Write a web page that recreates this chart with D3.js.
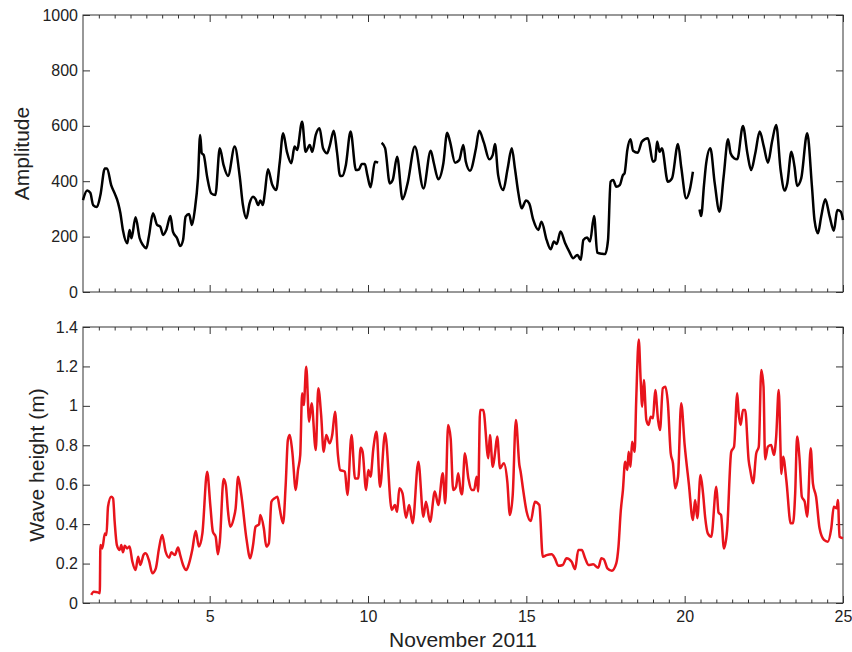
<!DOCTYPE html>
<html>
<head>
<meta charset="utf-8">
<script src="https://cdn.jsdelivr.net/npm/d3@7"></script>
<style>
  body { margin: 0; background: #fff; }
  svg { font-family: "Liberation Sans", Arial, Helvetica, sans-serif; }
</style>
</head>
<body>
<svg width="852" height="652"></svg>
<script>
// top panel: amplitude (null = gap in record)
var ampDays = [1.00, 1.13, 1.23, 1.32, 1.44, 1.55, 1.69, 1.76, 1.89, 2.00, 2.11, 2.18, 2.26, 2.40, 2.47, 2.53, 2.66, 2.79, 2.89, 3.00,
  3.08, 3.21, 3.34, 3.44, 3.53, 3.63, 3.76, 3.84, 3.97, 4.07, 4.16, 4.24, 4.35, 4.44, 4.53, 4.63, 4.70, 4.75, 4.81, 4.92,
  5.05, 5.18, 5.32, 5.44, 5.58, 5.79, 5.95, 6.05, 6.16, 6.26, 6.37, 6.45, 6.53, 6.60, 6.68, 6.74, 6.84, 6.98, 7.10, 7.21,
  7.32, 7.44, 7.58, 7.68, 7.76, 7.92, 8.03, 8.16, 8.24, 8.35, 8.47, 8.58, 8.71, 8.79, 8.92, 9.02, 9.12, 9.20, 9.30, 9.45,
  9.62, 9.72, 9.80, 9.90, 9.98, 10.08, 10.22, 10.32, 10.38, 10.43, 10.54, 10.69, 10.78, 10.92, 11.09, 11.25, 11.48, 11.75, 11.98, 12.08,
  12.22, 12.38, 12.50, 12.59, 12.75, 12.88, 13.01, 13.09, 13.22, 13.41, 13.51, 13.66, 13.83, 13.94, 14.01, 14.11, 14.27, 14.41, 14.54, 14.64,
  14.75, 14.85, 14.99, 15.09, 15.22, 15.38, 15.48, 15.64, 15.77, 15.87, 15.96, 16.08, 16.22, 16.36, 16.48, 16.61, 16.72, 16.80, 16.92, 17.01,
  17.14, 17.24, 17.39, 17.49, 17.58, 17.66, 17.74, 17.84, 17.95, 18.05, 18.10, 18.19, 18.29, 18.37, 18.52, 18.65, 18.84, 19.00, 19.07, 19.13,
  19.21, 19.28, 19.47, 19.60, 19.79, 19.89, 20.05, 20.16, 20.26, 20.36, 20.47, 20.52, 20.61, 20.68, 20.81, 20.95, 21.10, 21.23, 21.37, 21.45,
  21.56, 21.66, 21.84, 21.98, 22.10, 22.23, 22.37, 22.50, 22.63, 22.76, 22.89, 23.03, 23.16, 23.24, 23.37, 23.47, 23.55, 23.68, 23.87, 24.02,
  24.10, 24.21, 24.31, 24.44, 24.58, 24.71, 24.82, 24.93, 25.00]
var ampValues = [332, 366, 358, 314, 307, 350, 446, 446, 386, 356, 321, 285, 224, 176, 224, 194, 270, 194, 170, 158,
  200, 284, 242, 236, 206, 224, 274, 218, 194, 166, 188, 272, 282, 242, 296, 410, 567, 501, 495, 416,
  356, 350, 519, 458, 419, 525, 416, 314, 266, 320, 344, 335, 314, 330, 314, 356, 443, 386, 368, 465,
  573, 506, 465, 525, 513, 615, 506, 531, 506, 567, 591, 519, 501, 527, 582, 506, 419, 420, 458, 579,
  440, 443, 462, 462, 422, 378, 470, 467, null, 539, 519, 392, 404, 488, 335, 392, 525, 374, 510, 465,
  407, 465, 575, 543, 467, 476, 531, 470, 438, 519, 582, 539, 479, 495, 534, 422, 368, 446, 519, 446,
  356, 302, 330, 320, 260, 224, 254, 188, 154, 182, 173, 218, 178, 145, 122, 134, 116, 188, 197, 182,
  274, 142, 138, 137, 188, 398, 404, 380, 386, 422, 428, 513, 551, 510, 503, 543, 555, 470, 476, 543,
  506, 519, 398, 410, 534, 452, 338, 368, 434, null, 298, 274, 386, 465, 519, 392, 290, 416, 551, 501,
  483, 479, 599, 501, 440, 501, 579, 525, 467, 543, 603, 440, 366, 392, 506, 452, 383, 410, 573, 380,
  260, 212, 272, 335, 272, 221, 296, 290, 260]

// bottom panel: wave height (m)
var waveDays = [1.26, 1.34, 1.47, 1.53, 1.55, 1.61, 1.69, 1.74, 1.79, 1.89, 1.95, 2.00, 2.07, 2.16, 2.21, 2.26, 2.32, 2.39, 2.47, 2.56,
  2.66, 2.74, 2.81, 2.92, 2.98, 3.08, 3.19, 3.30, 3.40, 3.50, 3.61, 3.72, 3.79, 3.90, 4.00, 4.07, 4.16, 4.26, 4.35, 4.45,
  4.56, 4.66, 4.77, 4.92, 5.02, 5.10, 5.19, 5.26, 5.32, 5.44, 5.51, 5.58, 5.65, 5.76, 5.82, 5.90, 6.00, 6.16, 6.28, 6.37,
  6.45, 6.56, 6.60, 6.71, 6.79, 6.87, 6.95, 7.05, 7.14, 7.21, 7.32, 7.40, 7.47, 7.53, 7.61, 7.72, 7.79, 7.86, 7.92, 7.97,
  8.05, 8.14, 8.22, 8.35, 8.43, 8.52, 8.60, 8.68, 8.79, 8.87, 8.96, 9.05, 9.12, 9.27, 9.35, 9.48, 9.59, 9.69, 9.77, 9.83,
  9.94, 10.01, 10.08, 10.17, 10.27, 10.38, 10.54, 10.75, 10.85, 10.92, 10.99, 11.09, 11.20, 11.30, 11.41, 11.59, 11.75, 11.83, 11.96, 12.11,
  12.22, 12.36, 12.44, 12.53, 12.61, 12.69, 12.78, 12.85, 12.93, 12.97, 13.06, 13.17, 13.27, 13.35, 13.43, 13.48, 13.54, 13.64, 13.80, 13.85,
  13.94, 14.01, 14.08, 14.17, 14.29, 14.40, 14.48, 14.57, 14.67, 14.78, 14.82, 14.90, 15.01, 15.14, 15.27, 15.41, 15.52, 15.64, 15.80, 15.90,
  16.01, 16.15, 16.27, 16.43, 16.54, 16.64, 16.75, 16.85, 16.96, 17.11, 17.27, 17.37, 17.45, 17.56, 17.70, 17.84, 17.91, 17.98, 18.05, 18.12,
  18.19, 18.23, 18.29, 18.34, 18.42, 18.47, 18.55, 18.61, 18.66, 18.71, 18.79, 18.86, 18.93, 19.00, 19.07, 19.16, 19.22, 19.31, 19.39, 19.47,
  19.56, 19.63, 19.70, 19.79, 19.89, 20.00, 20.13, 20.26, 20.33, 20.40, 20.50, 20.58, 20.65, 20.73, 20.84, 21.00, 21.07, 21.15, 21.24, 21.34,
  21.47, 21.56, 21.66, 21.70, 21.77, 21.84, 21.91, 22.02, 22.08, 22.16, 22.26, 22.34, 22.42, 22.49, 22.54, 22.63, 22.73, 22.82, 22.89, 22.97,
  23.03, 23.05, 23.11, 23.21, 23.35, 23.42, 23.49, 23.55, 23.63, 23.70, 23.79, 23.87, 23.98, 24.05, 24.15, 24.26, 24.40, 24.52, 24.63, 24.71,
  24.80, 24.84, 24.89, 25.00]
var waveValues = [0.041, 0.057, 0.054, 0.049, 0.294, 0.277, 0.353, 0.345, 0.488, 0.539, 0.531, 0.412, 0.294, 0.269, 0.294, 0.257, 0.291, 0.277, 0.286, 0.209,
  0.167, 0.235, 0.193, 0.247, 0.252, 0.218, 0.151, 0.176, 0.277, 0.345, 0.260, 0.230, 0.257, 0.243, 0.281, 0.243, 0.193, 0.167, 0.201, 0.269,
  0.365, 0.286, 0.353, 0.666, 0.497, 0.362, 0.336, 0.247, 0.311, 0.629, 0.598, 0.463, 0.387, 0.430, 0.480, 0.641, 0.548, 0.328, 0.227, 0.294,
  0.387, 0.399, 0.446, 0.379, 0.286, 0.303, 0.514, 0.531, 0.539, 0.480, 0.404, 0.598, 0.827, 0.852, 0.767, 0.573, 0.675, 0.751, 1.064, 1.004,
  1.199, 0.920, 1.013, 0.776, 1.089, 0.954, 0.767, 0.852, 0.810, 0.852, 0.970, 0.751, 0.675, 0.666, 0.548, 0.852, 0.632, 0.632, 0.788, 0.767,
  0.573, 0.675, 0.641, 0.785, 0.869, 0.590, 0.861, 0.472, 0.497, 0.463, 0.582, 0.556, 0.433, 0.497, 0.404, 0.717, 0.438, 0.514, 0.412, 0.565,
  0.497, 0.658, 0.506, 0.903, 0.835, 0.573, 0.590, 0.658, 0.565, 0.551, 0.759, 0.632, 0.573, 0.573, 0.641, 0.565, 0.979, 0.979, 0.734, 0.852,
  0.691, 0.759, 0.844, 0.683, 0.709, 0.615, 0.446, 0.548, 0.928, 0.700, 0.666, 0.573, 0.463, 0.416, 0.514, 0.497, 0.235, 0.243, 0.247, 0.227,
  0.189, 0.193, 0.227, 0.209, 0.172, 0.269, 0.269, 0.230, 0.193, 0.196, 0.179, 0.227, 0.221, 0.176, 0.164, 0.201, 0.286, 0.463, 0.573, 0.717,
  0.675, 0.767, 0.691, 0.818, 0.767, 1.030, 1.337, 1.131, 0.996, 1.131, 0.928, 0.903, 0.945, 0.937, 1.080, 0.928, 0.877, 1.089, 1.097, 1.013,
  0.759, 0.709, 0.582, 0.641, 1.013, 0.801, 0.607, 0.421, 0.522, 0.430, 0.649, 0.556, 0.430, 0.353, 0.336, 0.590, 0.458, 0.446, 0.277, 0.370,
  0.767, 0.793, 1.064, 0.970, 0.903, 0.979, 0.979, 0.725, 0.666, 0.607, 0.759, 0.793, 1.182, 1.097, 0.729, 0.793, 0.801, 0.751, 0.844, 1.080,
  0.759, 0.654, 0.742, 0.624, 0.404, 0.404, 0.556, 0.844, 0.725, 0.539, 0.514, 0.438, 0.785, 0.607, 0.539, 0.379, 0.320, 0.311, 0.379, 0.488,
  0.480, 0.522, 0.336, 0.328]

var dayDomain = [1, 25]
var majorDays = [5, 10, 15, 20, 25]
var ampTicks = [0, 200, 400, 600, 800, 1000]
var waveTicks = [0, 0.2, 0.4, 0.6, 0.8, 1, 1.2, 1.4]

var svg = d3.select('svg')
var left = 83, right = 843
var x = d3.scaleLinear().domain(dayDomain).range([left, right])
var minorDays = d3.range(1.5, 25, 0.5).filter(d => d % 5 !== 0)

function panel(top, bottom, yDomain, yTicks, label, labelX, days, values, color, showX) {
    var y = d3.scaleLinear().domain(yDomain).range([bottom, top])
    var g = svg.append('g')
    var h = bottom - top, w = right - left

    // x ticks, inward, bottom and top
    g.append('g').attr('transform', 'translate(0,' + bottom + ')')
        .call(d3.axisBottom(x).tickValues(minorDays).tickSize(-3.5).tickFormat(''))
    g.append('g').attr('transform', 'translate(0,' + top + ')')
        .call(d3.axisTop(x).tickValues(minorDays).tickSize(-3.5).tickFormat(''))
    g.append('g').attr('transform', 'translate(0,' + top + ')')
        .call(d3.axisTop(x).tickValues(majorDays).tickSize(-7).tickFormat(''))
    g.append('g').attr('transform', 'translate(0,' + bottom + ')')
        .call(d3.axisBottom(x).tickValues(majorDays).tickSize(-7).tickPadding(8)
            .tickFormat(showX ? d3.format('d') : ''))

    // y ticks, inward, left and right
    g.append('g').attr('transform', 'translate(' + left + ',0)')
        .call(d3.axisLeft(y).tickValues(yTicks).tickSize(-7).tickPadding(5).tickFormat(d3.format('')))
    g.append('g').attr('transform', 'translate(' + right + ',0)')
        .call(d3.axisRight(y).tickValues(yTicks).tickSize(-7).tickFormat(''))

    g.selectAll('.domain').remove()
    g.selectAll('.tick line').attr('stroke', '#333')
    g.selectAll('.tick text').attr('font-size', 16).attr('fill', '#222')
        .attr('font-family', '"Liberation Sans", Arial, sans-serif')

    g.append('rect').attr('x', left).attr('y', top).attr('width', w).attr('height', h)
        .attr('fill', 'none').attr('stroke', '#333').attr('stroke-width', 1)

    var pts = days.map((d, i) => [d, values[i]])
    var line = d3.line().defined(d => d[1] !== null)
        .x(d => x(d[0])).y(d => y(d[1]))
        .curve(d3.curveMonotoneX)
    g.append('path').datum(pts).attr('d', line)
        .attr('fill', 'none').attr('stroke', color).attr('stroke-width', 2.5)
        .attr('stroke-linejoin', 'round')

    svg.append('text')
        .attr('transform', 'translate(' + labelX + ',' + (top + bottom) / 2 + ') rotate(-90)')
        .attr('text-anchor', 'middle').attr('font-size', 21).attr('fill', '#222')
        .text(label)
}

panel(15, 292, [0, 1000], ampTicks, 'Amplitude', 29, ampDays, ampValues, '#000', false)
panel(327, 603, [0, 1.4], waveTicks, 'Wave height (m)', 44, waveDays, waveValues, '#e8141c', true)

svg.append('text').attr('x', (left + right) / 2).attr('y', 647)
    .attr('text-anchor', 'middle').attr('font-size', 21).attr('fill', '#222')
    .text('November 2011')
</script>
</body>
</html>
